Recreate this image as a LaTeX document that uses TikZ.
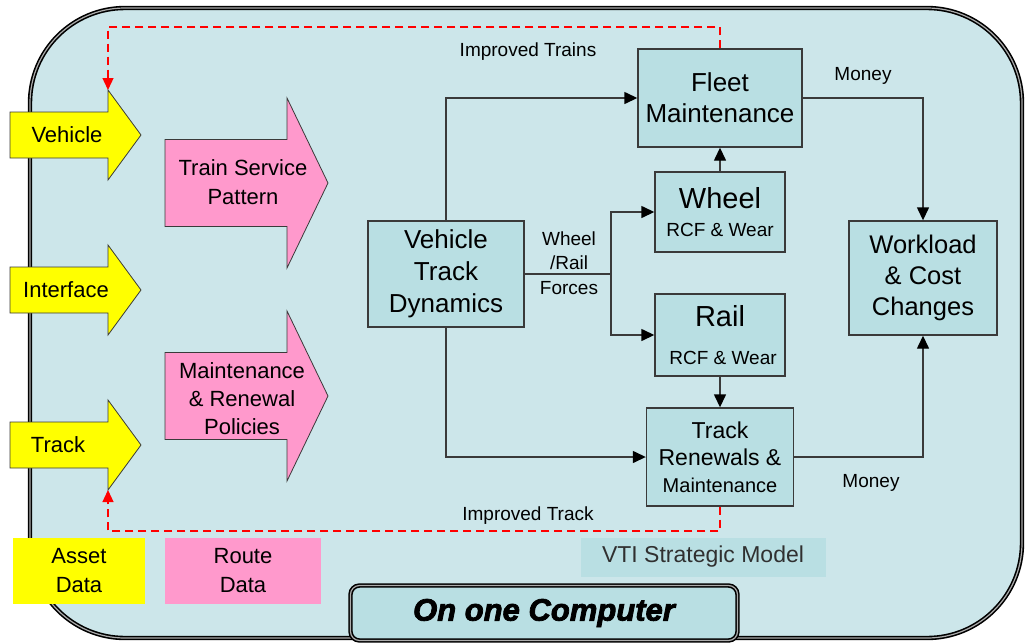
\documentclass[tikz,border=0pt]{standalone}
\usepackage{fontspec}
\setmainfont{Liberation Sans}
\newfontfamily\heavyfont[FakeBold=2.5]{Liberation Sans Bold Italic}
\usetikzlibrary{arrows.meta}

\definecolor{panel}{HTML}{CCE6EA}
\definecolor{boxfill}{HTML}{B9DFE3}
\definecolor{edge}{HTML}{3A3A3A}
\definecolor{ylw}{HTML}{FFFF00}
\definecolor{pnk}{HTML}{FF99CC}
\definecolor{dred}{HTML}{FF0000}
\definecolor{softtext}{HTML}{303030}

\tikzset{
  procbox/.style={draw=edge, line width=1.4pt, fill=boxfill, align=center, inner sep=0pt, text=black},
  flow/.style={draw=edge, line width=1.4pt, -{Triangle[length=13pt,width=12pt,color=black]}},
  plainflow/.style={draw=edge, line width=1.4pt},
  feedback/.style={draw=dred, line width=1.3pt, dash pattern=on 8pt off 5pt, -{Triangle[length=12pt,width=11pt]}},
  lbl/.style={inner sep=0pt, align=center, text=black},
  yarrow/.style={fill=ylw, draw=edge, line width=0.8pt},
  parrow/.style={fill=pnk, draw=edge, line width=0.8pt},
  frame/.style={draw=black, line width=1.6pt, double=gray!65, double distance=1.2pt},
  keybox/.style={inner sep=0pt, align=center, text=black},
}

% block arrow pointing right: #1 = centre y, #2 = style
\newcommand\inputarrow[2]{%
  \path[#2] (10,#1-23) -- (108,#1-23) -- (108,#1-45) -- (141,#1)
    -- (108,#1+45) -- (108,#1+23) -- (10,#1+23) -- cycle;}
\newcommand\policyarrow[2]{%
  \path[#2] (165,#1-43.5) -- (287,#1-43.5) -- (287,#1-85) -- (328,#1)
    -- (287,#1+85) -- (287,#1+43.5) -- (165,#1+43.5) -- cycle;}

\begin{document}
\begin{tikzpicture}[x=1pt,y=-1pt]
\useasboundingbox (0,0) rectangle (1026,643);

% model frame
\path[frame, fill=panel, rounded corners=95pt] (30,8) rectangle (1022,638);

% input block arrows
\inputarrow{135}{yarrow}
\inputarrow{290}{yarrow}
\inputarrow{445}{yarrow}
\node[lbl, font=\fontsize{22}{26}\selectfont] (veh)  at (67,135) {Vehicle};
\node[lbl, font=\fontsize{22}{26}\selectfont] (intf) at (66,290) {Interface};
\node[lbl, font=\fontsize{22}{26}\selectfont] (trk)  at (58,445) {Track};
\coordinate (vehtop) at (108,90);
\coordinate (trkbot) at (108,490);

\policyarrow{183}{parrow}
\policyarrow{396}{parrow}
\node[lbl, font=\fontsize{22}{29}\selectfont] (tsp) at (243,182) {Train Service\\Pattern};
\node[lbl, font=\fontsize{22}{28}\selectfont] (mrp) at (242,399) {Maintenance\\\& Renewal\\Policies};

% data keys
\node[keybox, fill=ylw, minimum width=132pt, minimum height=66pt, font=\fontsize{22}{29}\selectfont] (asset) at (79,571) {Asset\\Data};
\node[keybox, fill=pnk, minimum width=156pt, minimum height=66pt, font=\fontsize{22}{29}\selectfont] (route) at (243,571) {Route\\Data};

% process boxes
\node[procbox, minimum width=164pt, minimum height=98pt, font=\fontsize{26}{31}\selectfont] (fleet) at (720,98) {Fleet\\Maintenance};
\node[procbox, minimum width=130pt, minimum height=80pt, font=\fontsize{19}{28}\selectfont] (wheel) at (720,212)
  {{\fontsize{29}{30}\selectfont Wheel}\\RCF \& Wear};
\node[procbox, minimum width=130pt, minimum height=82pt, font=\fontsize{19}{38}\selectfont] (rail) at (720,335)
  {{\fontsize{29}{30}\selectfont Rail}\\\hspace*{6pt}RCF \& Wear};
\node[procbox, minimum width=156pt, minimum height=106pt, font=\fontsize{26}{32}\selectfont] (vtd) at (446,274) {Vehicle\\Track\\Dynamics};
\node[procbox, minimum width=147pt, minimum height=98pt, font=\fontsize{20}{27}\selectfont] (trm) at (720,457)
  {{\fontsize{23}{27}\selectfont Track}\\{\fontsize{23}{27}\selectfont Renewals \&}\\Maintenance};
\node[procbox, minimum width=148pt, minimum height=114pt, font=\fontsize{25.5}{31}\selectfont] (work) at (923,278) {Workload\\\& Cost\\Changes};

% flows
\coordinate (split) at (611,274);
\draw[flow] (vtd.north) |- (fleet.west);
\draw[flow] (vtd.south) |- (trm.west);
\draw[plainflow] (vtd.east) -- (split);
\draw[flow] (split) |- (wheel.west);
\draw[flow] (split) |- (rail.west);
\draw[flow] (wheel.north) -- (fleet.south);
\draw[flow] (rail.south) -- (trm.north);
\draw[flow] (fleet.east) -| (work.north);
\draw[flow] (trm.east) -| (work.south);

% feedback loops
\coordinate (ftop) at (108,27);
\coordinate (fbot) at (108,531);
\draw[feedback] (fleet.north) |- (ftop) -- (vehtop);
\draw[feedback] (trm.south) |- (fbot) -- (trkbot);

% flow labels
\node[lbl, font=\fontsize{19}{22}\selectfont] (imptrains) at (528,52) {Improved Trains};
\node[lbl, font=\fontsize{19}{22}\selectfont] (imptrack) at (528,516) {Improved Track};
\node[lbl, font=\fontsize{19}{22}\selectfont] (money1) at (863,76) {Money};
\node[lbl, font=\fontsize{19}{22}\selectfont] (money2) at (871,483) {Money};
\node[lbl, font=\fontsize{19}{24.5}\selectfont] (forces) at (569,263) {Wheel\\/Rail\\Forces};

% model caption
\node[fill=boxfill, minimum width=245pt, minimum height=39pt, inner sep=0pt, text=softtext, font=\fontsize{23}{26}\selectfont] (vti) at (703,557) {VTI Strategic Model};

% platform banner
\node[frame, fill=boxfill, rounded corners=9pt, minimum width=387pt, minimum height=55pt, inner sep=0pt, font=\heavyfont\fontsize{31}{34}\selectfont] (comp) at (544,613) {On one Computer};
\end{tikzpicture}
\end{document}
